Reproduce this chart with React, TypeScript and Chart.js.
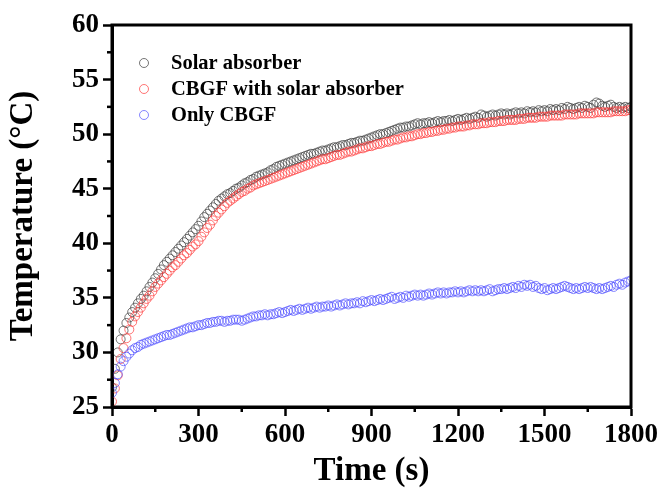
import React, { useEffect, useRef } from "react";
import { Chart, registerables } from "chart.js";

Chart.register(...registerables);

const SAMPLE_INTERVAL_S = 10;

// Temperature (°C) read every 10 s, 0 .. 1800 s
const SOLAR_ABSORBER = [
  26.8, 28.5, 30.0, 31.2, 32.0, 32.7, 33.2, 33.7, 34.1, 34.5,
  34.9, 35.2, 35.6, 36.0, 36.4, 36.8, 37.2, 37.6, 38.0, 38.3,
  38.6, 38.9, 39.2, 39.5, 39.8, 40.1, 40.4, 40.7, 41.0, 41.3,
  41.6, 42.0, 42.4, 42.7, 43.0, 43.3, 43.6, 43.9, 44.1, 44.3,
  44.5, 44.6, 44.8, 45.0, 45.1, 45.3, 45.5, 45.6, 45.8, 45.9,
  46.1, 46.2, 46.3, 46.4, 46.5, 46.7, 46.8, 47.0, 47.1, 47.2,
  47.3, 47.4, 47.5, 47.6, 47.7, 47.8, 47.9, 48.0, 48.1, 48.2,
  48.2, 48.3, 48.4, 48.5, 48.5, 48.6, 48.7, 48.8, 48.8, 48.9,
  49.0, 49.0, 49.1, 49.2, 49.2, 49.3, 49.4, 49.4, 49.5, 49.6,
  49.7, 49.8, 49.9, 50.0, 50.0, 50.1, 50.2, 50.3, 50.4, 50.5,
  50.6, 50.6, 50.7, 50.7, 50.8, 50.9, 51.0, 50.9, 51.0, 51.0,
  51.1, 51.0, 51.1, 51.2, 51.1, 51.2, 51.2, 51.3, 51.2, 51.3,
  51.4, 51.3, 51.4, 51.5, 51.4, 51.5, 51.6, 51.5, 51.8, 51.7,
  51.6, 51.7, 51.8, 51.7, 51.8, 51.9, 51.8, 51.9, 51.8, 51.9,
  52.0, 51.9, 52.0, 51.9, 52.1, 52.0, 52.1, 52.0, 52.2, 52.1,
  52.2, 52.1, 52.3, 52.2, 52.3, 52.2, 52.4, 52.3, 52.5, 52.4,
  52.3, 52.4, 52.5, 52.4, 52.6, 52.5, 52.4, 52.7, 52.9, 52.8,
  52.6, 52.5, 52.6, 52.7, 52.5, 52.4, 52.5, 52.4, 52.5, 52.4,
  52.5,
];

const CBGF_WITH_SOLAR = [
  25.5, 26.7, 27.9, 29.4, 30.4, 31.3, 32.1, 32.8, 33.3, 33.7,
  34.1, 34.5, 34.9, 35.2, 35.6, 36.0, 36.3, 36.6, 36.9, 37.2,
  37.5, 37.8, 38.0, 38.3, 38.6, 38.9, 39.1, 39.4, 39.7, 39.9,
  40.2, 40.6, 41.0, 41.4, 41.7, 42.1, 42.5, 42.8, 43.1, 43.4,
  43.7, 43.9, 44.1, 44.3, 44.5, 44.7, 44.8, 45.0, 45.1, 45.3,
  45.4, 45.5, 45.6, 45.7, 45.8, 45.9, 46.0, 46.1, 46.2, 46.3,
  46.4, 46.5, 46.6, 46.7, 46.8, 46.9, 47.0, 47.1, 47.2, 47.3,
  47.4, 47.5, 47.6, 47.7, 47.7, 47.8, 47.9, 48.0, 48.1, 48.1,
  48.2, 48.3, 48.4, 48.4, 48.5, 48.6, 48.7, 48.7, 48.8, 48.9,
  48.9, 49.0, 49.1, 49.1, 49.2, 49.3, 49.3, 49.4, 49.5, 49.5,
  49.6, 49.7, 49.7, 49.8, 49.8, 49.9, 50.0, 50.0, 50.1, 50.1,
  50.2, 50.2, 50.3, 50.3, 50.4, 50.4, 50.5, 50.5, 50.6, 50.6,
  50.7, 50.7, 50.7, 50.8, 50.8, 50.9, 50.9, 50.9, 51.0, 51.0,
  51.0, 51.1, 51.1, 51.1, 51.2, 51.2, 51.2, 51.3, 51.3, 51.3,
  51.3, 51.4, 51.4, 51.4, 51.5, 51.5, 51.5, 51.5, 51.6, 51.6,
  51.6, 51.6, 51.7, 51.7, 51.7, 51.7, 51.7, 51.8, 51.8, 51.8,
  51.8, 51.8, 51.9, 51.9, 51.9, 51.9, 51.9, 51.9, 52.0, 52.0,
  52.0, 52.0, 52.0, 52.0, 52.1, 52.1, 52.1, 52.1, 52.1, 52.2,
  52.2,
];

const ONLY_CBGF = [
  26.3, 27.2, 28.0, 28.7, 29.2, 29.6, 29.9, 30.2, 30.4, 30.5,
  30.7, 30.8, 30.9, 31.0, 31.1, 31.2, 31.3, 31.4, 31.5, 31.6,
  31.6, 31.7, 31.8, 31.9, 32.0, 32.1, 32.2, 32.3, 32.3, 32.4,
  32.5, 32.5, 32.6, 32.7, 32.7, 32.8, 32.8, 32.9, 32.9, 32.8,
  32.9, 32.9, 33.0, 33.0, 33.0, 32.9, 33.0, 33.1, 33.2, 33.3,
  33.3, 33.4, 33.4, 33.5, 33.4, 33.5, 33.5, 33.6, 33.7, 33.6,
  33.7, 33.8, 33.9, 33.8, 33.9, 34.0, 33.9, 34.0, 34.1, 34.0,
  34.1, 34.2, 34.1, 34.2, 34.2, 34.3, 34.2, 34.3, 34.4, 34.3,
  34.4, 34.5, 34.4, 34.5, 34.5, 34.6, 34.5, 34.7, 34.6, 34.7,
  34.8, 34.7, 34.8, 34.9, 34.8, 34.9, 35.0, 35.1, 34.9, 35.0,
  35.1, 35.0, 35.2, 35.1, 35.2, 35.3, 35.2, 35.3, 35.2, 35.3,
  35.4, 35.3, 35.4, 35.5, 35.4, 35.5, 35.4, 35.5, 35.5, 35.6,
  35.5, 35.6, 35.5, 35.6, 35.7, 35.6, 35.7, 35.6, 35.7, 35.6,
  35.7, 35.8, 35.6, 35.7, 35.8, 35.8, 35.9, 35.8, 35.9, 36.0,
  35.9, 36.1, 36.0, 36.2, 36.1, 36.2, 36.0, 36.1, 35.9, 35.8,
  35.9, 35.7, 35.8, 35.9, 35.8, 35.9, 36.0, 36.1, 36.0, 35.9,
  35.8, 35.9, 35.8, 35.9, 36.0, 35.9, 36.0, 35.9, 35.8, 35.9,
  35.8, 35.9, 36.0, 36.1, 36.0, 36.2, 36.3, 36.2, 36.4, 36.5,
  36.6,
];

const SERIES_LABELS = ["Solar absorber", "CBGF with solar absorber", "Only CBGF"];
const SERIES_COLORS = ["rgba(60,60,60,0.7)", "rgba(255,60,60,0.7)", "rgba(70,70,255,0.65)"];

const X_MIN = 0;
const X_MAX = 1800;
const X_MAJOR = 300;
const Y_MIN = 25;
const Y_MAX = 60;
const Y_MAJOR = 5;

const X_TITLE = "Time (s)";
const Y_TITLE = "Temperature (°C)";

const FONT = "'Liberation Serif', 'Times New Roman', serif";

const toPoints = (vals: number[]) =>
  vals.map((v, i) => ({ x: i * SAMPLE_INTERVAL_S, y: v }));

const framePlugin = {
  id: "frameAndMinor",
  afterDatasetsDraw(chart: any) {
    const { ctx, chartArea, scales } = chart;
    ctx.save();
    ctx.strokeStyle = "#000";
    ctx.lineWidth = 2.5;
    const xs = scales.x;
    const ys = scales.y;
    for (let v = X_MIN + X_MAJOR / 2; v < X_MAX; v += X_MAJOR) {
      const px = xs.getPixelForValue(v);
      ctx.beginPath();
      ctx.moveTo(px, chartArea.bottom);
      ctx.lineTo(px, chartArea.bottom + 5);
      ctx.stroke();
    }
    for (let v = Y_MIN + Y_MAJOR / 2; v < Y_MAX; v += Y_MAJOR) {
      const py = ys.getPixelForValue(v);
      ctx.beginPath();
      ctx.moveTo(chartArea.left, py);
      ctx.lineTo(chartArea.left - 5, py);
      ctx.stroke();
    }
    ctx.lineWidth = 3;
    ctx.strokeRect(
      chartArea.left,
      chartArea.top,
      chartArea.right - chartArea.left,
      chartArea.bottom - chartArea.top
    );
    const lx = chartArea.left + 32;
    const tx = chartArea.left + 59;
    const rows = [63, 89, 115];
    ctx.font = `bold 20.5px ${FONT}`;
    ctx.textBaseline = "middle";
    ctx.textAlign = "left";
    chart.data.datasets.forEach((ds: any, i: number) => {
      const y = rows[i];
      ctx.beginPath();
      ctx.lineWidth = 1;
      ctx.strokeStyle = ds.borderColor;
      ctx.arc(lx, y, 4.5, 0, Math.PI * 2);
      ctx.stroke();
      ctx.fillStyle = "#000";
      ctx.fillText(ds.label, tx, y + 1);
    });
    ctx.restore();
  },
};

export default function App() {
  const canvasRef = useRef<HTMLCanvasElement | null>(null);

  useEffect(() => {
    if (!canvasRef.current) return;
    const seriesValues = [SOLAR_ABSORBER, CBGF_WITH_SOLAR, ONLY_CBGF];
    const chart = new Chart(canvasRef.current, {
      type: "scatter",
      data: {
        datasets: seriesValues.map((vals, i) => ({
          label: SERIES_LABELS[i],
          data: toPoints(vals),
          borderColor: SERIES_COLORS[i],
          backgroundColor: "rgba(0,0,0,0)",
          pointRadius: 4.5,
          pointBorderWidth: 1,
          pointStyle: "circle",
          showLine: false,
          order: 3 - i,
        })),
      },
      options: {
        animation: false,
        responsive: false,
        maintainAspectRatio: false,
        layout: { padding: { left: 0, right: 35, top: 25, bottom: 0 } },
        plugins: {
          legend: { display: false },
          tooltip: { enabled: false },
        },
        scales: {
          x: {
            type: "linear",
            min: X_MIN,
            max: X_MAX,
            afterFit: (scale: any) => {
              scale.height = 89;
            },
            ticks: {
              stepSize: X_MAJOR,
              color: "#000",
              padding: 3,
              font: { family: FONT, size: 27, weight: "bold" },
              maxRotation: 0,
              callback: (v: any) => String(v),
            },
            grid: {
              display: true,
              drawOnChartArea: false,
              drawTicks: true,
              tickLength: 9,
              tickWidth: 2.5,
              tickColor: "#000",
            },
            border: { display: true, color: "#000", width: 3 },
            title: {
              display: true,
              text: X_TITLE,
              color: "#000",
              font: { family: FONT, size: 33, weight: "bold" },
              padding: { top: 0, bottom: 5 },
            },
          },
          y: {
            type: "linear",
            min: Y_MIN,
            max: Y_MAX,
            afterFit: (scale: any) => {
              scale.width = 112;
            },
            ticks: {
              stepSize: Y_MAJOR,
              color: "#000",
              padding: 4,
              font: { family: FONT, size: 27, weight: "bold" },
              callback: (v: any) => String(v),
            },
            grid: {
              display: true,
              drawOnChartArea: false,
              drawTicks: true,
              tickLength: 9,
              tickWidth: 2.5,
              tickColor: "#000",
            },
            border: { display: true, color: "#000", width: 3 },
            title: {
              display: true,
              text: Y_TITLE,
              color: "#000",
              font: { family: FONT, size: 33, weight: "bold" },
              padding: { top: 4, bottom: 0 },
            },
          },
        },
      },
      plugins: [framePlugin],
    });
    return () => chart.destroy();
  }, []);

  return (
    <div style={{ position: "absolute", left: 0, top: 0, width: 666, height: 496, background: "#fff" }}>
      <canvas ref={canvasRef} width={666} height={496} style={{ width: 666, height: 496 }} />
    </div>
  );
}
